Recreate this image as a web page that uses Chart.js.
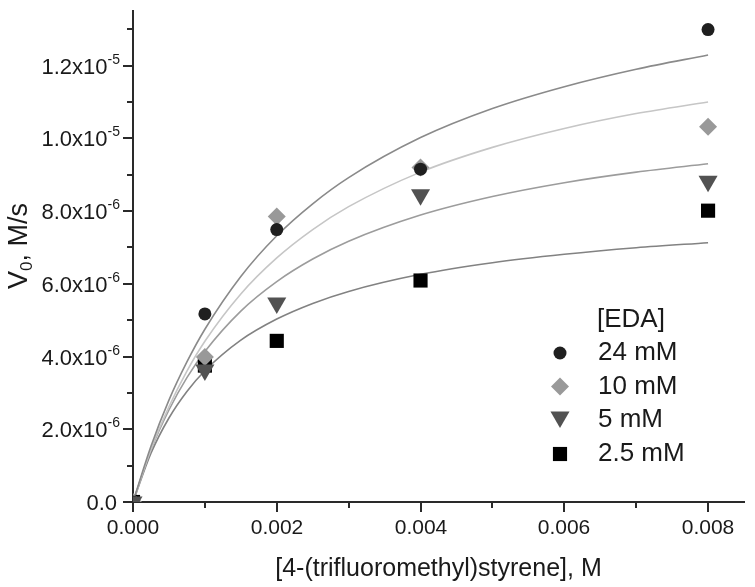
<!DOCTYPE html>
<html>
<head>
<meta charset="utf-8">
<script src="https://cdn.jsdelivr.net/npm/chart.js@4/dist/chart.umd.min.js"></script>
<style>
  body { margin: 0; background: #fff; }
  #wrap { width: 755px; height: 587px; }
</style>
</head>
<body>
<div id="wrap"><canvas id="chart" width="755" height="587"></canvas></div>
<script>
// measured points, [4-(trifluoromethyl)styrene] in M, V0 in M/s
const conc = [0, 0.001, 0.002, 0.004, 0.008];
const v24 = [0, 5.17e-6, 7.49e-6, 9.15e-6, 12.99e-6];
const v10 = [0, 3.99e-6, 7.85e-6, 9.2e-6, 10.32e-6];
const v5 = [0, 3.63e-6, 5.47e-6, 8.45e-6, 8.82e-6];
const v2_5 = [0, 3.75e-6, 4.43e-6, 6.09e-6, 8.01e-6];

// fitted curves
const curveX = [0, 0.00025, 0.0005, 0.00075, 0.001, 0.0015, 0.002, 0.0025, 0.003, 0.004, 0.005, 0.006, 0.007, 0.008];
const fit24 = [0, 1.53e-6, 2.80e-6, 3.85e-6, 4.75e-6, 6.20e-6, 7.32e-6, 8.20e-6, 8.92e-6, 10.02e-6, 10.82e-6, 11.42e-6, 11.90e-6, 12.29e-6];
const fit10 = [0, 1.45e-6, 2.62e-6, 3.60e-6, 4.42e-6, 5.72e-6, 6.71e-6, 7.49e-6, 8.12e-6, 9.07e-6, 9.75e-6, 10.27e-6, 10.68e-6, 11.0e-6];
const fit5 = [0, 1.43e-6, 2.53e-6, 3.42e-6, 4.14e-6, 5.25e-6, 6.06e-6, 6.68e-6, 7.17e-6, 7.89e-6, 8.40e-6, 8.78e-6, 9.07e-6, 9.30e-6];
const fit2_5 = [0, 1.34e-6, 2.31e-6, 3.04e-6, 3.61e-6, 4.45e-6, 5.03e-6, 5.46e-6, 5.79e-6, 6.26e-6, 6.58e-6, 6.81e-6, 6.99e-6, 7.13e-6];

const seriesNames = ['24 mM', '10 mM', '5 mM', '2.5 mM'];

// ticks
const xTickValues = [0, 0.002, 0.004, 0.006, 0.008];
const xTickLabels = ['0.000', '0.002', '0.004', '0.006', '0.008'];
const xMinorValues = [0.001, 0.003, 0.005, 0.007];
const yTickValues = [0, 2e-6, 4e-6, 6e-6, 8e-6, 1e-5, 1.2e-5];
const yTickMantissa = ['0.0', '2.0x10', '4.0x10', '6.0x10', '8.0x10', '1.0x10', '1.2x10'];
const yTickExp = ['', '-6', '-6', '-6', '-6', '-5', '-5'];
const yMinorValues = [1e-6, 3e-6, 5e-6, 7e-6, 9e-6, 1.1e-5, 1.3e-5];

const FONT = '"Liberation Sans", Arial, sans-serif';
const AXIS = '#2a2a2a';

const markers = [
    { style: 'circle', radius: 6.5, color: '#1f1f1f', rot: 0 },
    { style: 'rectRot', radius: 9, color: '#999999', rot: 0 },
    { style: 'triangle', radius: 11, color: '#525252', rot: 180 },
    { style: 'rect', radius: 10, color: '#000000', rot: 0 },
];
const lineColors = ['#8a8a8a', '#c6c6c6', '#9c9c9c', '#828282'];

function pts(xs, ys) {
    return xs.map((x, i) => ({ x: x, y: ys[i] }));
}

const pointSets = [v24, v10, v5, v2_5];
const fitSets = [fit24, fit10, fit5, fit2_5];
const pointOrder = [2, 3, 1, 4];

const datasets = [];
fitSets.forEach((f, i) => {
    datasets.push({
        label: 'fit ' + seriesNames[i],
        data: pts(curveX, f),
        showLine: true,
        borderColor: lineColors[i],
        borderWidth: 1.6,
        pointRadius: 0,
        cubicInterpolationMode: 'monotone',
        order: 10,
    });
});
pointSets.forEach((v, i) => {
    datasets.push({
        label: seriesNames[i],
        data: pts(conc, v),
        showLine: false,
        pointStyle: markers[i].style,
        pointRadius: markers[i].radius,
        pointRotation: markers[i].rot,
        backgroundColor: markers[i].color,
        borderColor: markers[i].color,
        borderWidth: 0,
        order: pointOrder[i],
    });
});

const axesPlugin = {
    id: 'axesPlugin',
    afterDraw(chart) {
        const ctx = chart.ctx;
        const xs = chart.scales.x;
        const ys = chart.scales.y;
        const area = chart.chartArea;
        ctx.save();
        ctx.strokeStyle = AXIS;
        ctx.lineWidth = 2;
        ctx.fillStyle = '#1a1a1a';

        // x ticks
        xTickValues.forEach((v, i) => {
            const px = Math.round(xs.getPixelForValue(v));
            ctx.beginPath();
            ctx.moveTo(px, area.bottom);
            ctx.lineTo(px, area.bottom + 10);
            ctx.stroke();
            ctx.font = '21px ' + FONT;
            ctx.textAlign = 'center';
            ctx.textBaseline = 'middle';
            ctx.fillText(xTickLabels[i], px, 528);
        });
        xMinorValues.forEach((v) => {
            const px = Math.round(xs.getPixelForValue(v));
            ctx.beginPath();
            ctx.moveTo(px, area.bottom);
            ctx.lineTo(px, area.bottom + 6);
            ctx.stroke();
        });

        // y ticks
        yTickValues.forEach((v, i) => {
            const py = Math.round(ys.getPixelForValue(v));
            ctx.beginPath();
            ctx.moveTo(area.left, py);
            ctx.lineTo(area.left - 10, py);
            ctx.stroke();
            ctx.textBaseline = 'middle';
            ctx.textAlign = 'left';
            ctx.font = '22px ' + FONT;
            const wMain = ctx.measureText(yTickMantissa[i]).width;
            ctx.font = '14px ' + FONT;
            const wExp = yTickExp[i] ? ctx.measureText(yTickExp[i]).width : 0;
            const right = yTickExp[i] ? 120 : 117;
            const start = right - wMain - wExp;
            ctx.font = '22px ' + FONT;
            ctx.fillText(yTickMantissa[i], start, py + 2);
            if (yTickExp[i]) {
                ctx.font = '14px ' + FONT;
                ctx.fillText(yTickExp[i], start + wMain, py - 6);
            }
        });
        yMinorValues.forEach((v) => {
            const py = Math.round(ys.getPixelForValue(v));
            ctx.beginPath();
            ctx.moveTo(area.left, py);
            ctx.lineTo(area.left - 6, py);
            ctx.stroke();
        });

        // axis titles
        ctx.font = '25px ' + FONT;
        ctx.textAlign = 'center';
        ctx.textBaseline = 'middle';
        ctx.fillText('[4-(trifluoromethyl)styrene], M', (area.left + area.right) / 2, 569);

        ctx.save();
        ctx.translate(20, 246);
        ctx.rotate(-Math.PI / 2);
        ctx.textAlign = 'left';
        ctx.font = '27px ' + FONT;
        const wV = ctx.measureText('V').width;
        ctx.font = '17px ' + FONT;
        const wSub = ctx.measureText('0').width;
        ctx.font = '27px ' + FONT;
        const wRest = ctx.measureText(', M/s').width;
        let sx = -(wV + wSub + wRest) / 2;
        ctx.fillText('V', sx, 0);
        ctx.font = '17px ' + FONT;
        ctx.fillText('0', sx + wV, 7);
        ctx.font = '27px ' + FONT;
        ctx.fillText(', M/s', sx + wV + wSub, 0);
        ctx.restore();

        // legend
        ctx.textAlign = 'left';
        ctx.textBaseline = 'middle';
        ctx.font = '26px ' + FONT;
        ctx.fillText('[EDA]', 597, 320);
        const rowY = [353, 386.5, 420, 454];
        seriesNames.forEach((name, i) => {
            const m = markers[i];
            ctx.fillStyle = m.color;
            ctx.strokeStyle = m.color;
            Chart.helpers.drawPoint(ctx, {
                pointStyle: m.style,
                radius: m.radius,
                rotation: m.rot,
                borderWidth: 0,
            }, 560, m.style === 'triangle' ? rowY[i] - 3 : rowY[i]);
            ctx.fillStyle = '#1a1a1a';
            ctx.fillText(name, 598, rowY[i]);
        });
        ctx.restore();
    },
};

new Chart(document.getElementById('chart'), {
    type: 'scatter',
    data: { datasets: datasets },
    options: {
        responsive: false,
        animation: false,
        layout: { padding: { top: 7, right: 7, left: 0, bottom: 0 } },
        plugins: { legend: { display: false }, tooltip: { enabled: false } },
        scales: {
            x: {
                type: 'linear',
                min: 0,
                max: 0.0085,
                grid: { display: false },
                border: { display: true, color: AXIS, width: 2 },
                ticks: { display: false },
                afterFit: (s) => { s.height = 85; },
            },
            y: {
                type: 'linear',
                min: 0,
                max: 1.35e-5,
                grid: { display: false },
                border: { display: true, color: AXIS, width: 2 },
                ticks: { display: false },
                afterFit: (s) => { s.width = 133; },
            },
        },
    },
    plugins: [axesPlugin],
});
</script>
</body>
</html>
